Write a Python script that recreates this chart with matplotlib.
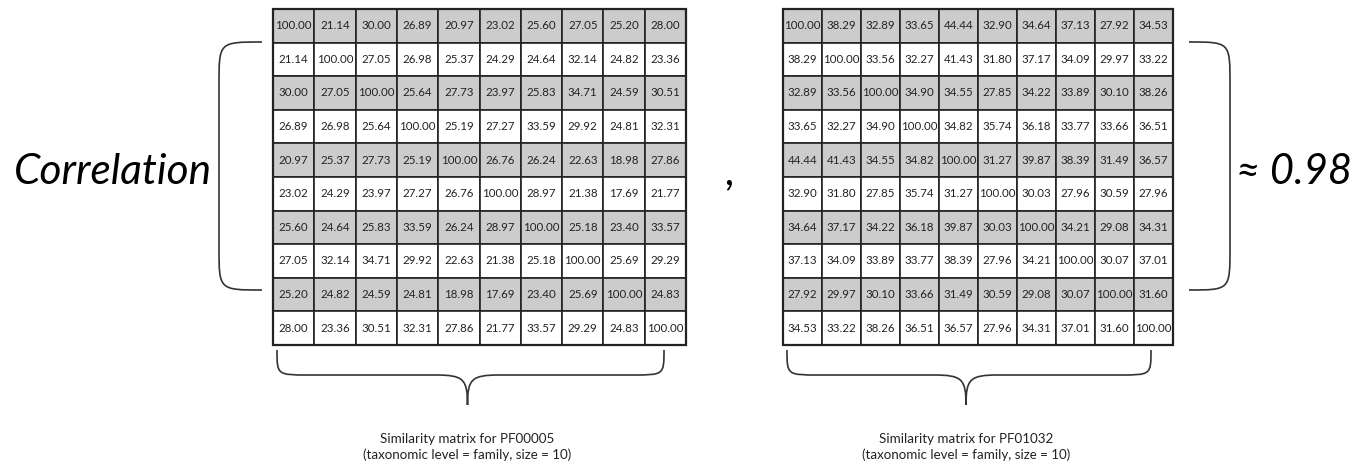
import matplotlib

matplotlib.use("Agg")
import matplotlib.pyplot as plt
from matplotlib.patches import Rectangle, PathPatch
from matplotlib.path import Path as MplPath

# Similarity matrices
pf00005 = [
    [100.00, 21.14, 30.00, 26.89, 20.97, 23.02, 25.60, 27.05, 25.20, 28.00],
    [21.14, 100.00, 27.05, 26.98, 25.37, 24.29, 24.64, 32.14, 24.82, 23.36],
    [30.00, 27.05, 100.00, 25.64, 27.73, 23.97, 25.83, 34.71, 24.59, 30.51],
    [26.89, 26.98, 25.64, 100.00, 25.19, 27.27, 33.59, 29.92, 24.81, 32.31],
    [20.97, 25.37, 27.73, 25.19, 100.00, 26.76, 26.24, 22.63, 18.98, 27.86],
    [23.02, 24.29, 23.97, 27.27, 26.76, 100.00, 28.97, 21.38, 17.69, 21.77],
    [25.60, 24.64, 25.83, 33.59, 26.24, 28.97, 100.00, 25.18, 23.40, 33.57],
    [27.05, 32.14, 34.71, 29.92, 22.63, 21.38, 25.18, 100.00, 25.69, 29.29],
    [25.20, 24.82, 24.59, 24.81, 18.98, 17.69, 23.40, 25.69, 100.00, 24.83],
    [28.00, 23.36, 30.51, 32.31, 27.86, 21.77, 33.57, 29.29, 24.83, 100.00],
]
pf01032 = [
    [100.00, 38.29, 32.89, 33.65, 44.44, 32.90, 34.64, 37.13, 27.92, 34.53],
    [38.29, 100.00, 33.56, 32.27, 41.43, 31.80, 37.17, 34.09, 29.97, 33.22],
    [32.89, 33.56, 100.00, 34.90, 34.55, 27.85, 34.22, 33.89, 30.10, 38.26],
    [33.65, 32.27, 34.90, 100.00, 34.82, 35.74, 36.18, 33.77, 33.66, 36.51],
    [44.44, 41.43, 34.55, 34.82, 100.00, 31.27, 39.87, 38.39, 31.49, 36.57],
    [32.90, 31.80, 27.85, 35.74, 31.27, 100.00, 30.03, 27.96, 30.59, 27.96],
    [34.64, 37.17, 34.22, 36.18, 39.87, 30.03, 100.00, 34.21, 29.08, 34.31],
    [37.13, 34.09, 33.89, 33.77, 38.39, 27.96, 34.21, 100.00, 30.07, 37.01],
    [27.92, 29.97, 30.10, 33.66, 31.49, 30.59, 29.08, 30.07, 100.00, 31.60],
    [34.53, 33.22, 38.26, 36.51, 36.57, 27.96, 34.31, 37.01, 31.60, 100.00],
]
captions = [
    "Similarity matrix for PF00005\n(taxonomic level = family, size = 10)",
    "Similarity matrix for PF01032\n(taxonomic level = family, size = 10)",
]
correlation = 0.98

LINE = "#333333"
GREY = "#cccccc"
FONT = "Lato"

fig = plt.figure(figsize=(13.67, 4.68), dpi=100)
ax = fig.add_axes([0, 0, 1, 1])
ax.set_xlim(0, 1367)
ax.set_ylim(468, 0)
ax.axis("off")


def draw_matrix(mat, x0, x1, y0, y1):
    n = len(mat)
    cw = (x1 - x0) / n
    ch = (y1 - y0) / n
    for i, row in enumerate(mat):
        for j, v in enumerate(row):
            ax.add_patch(Rectangle((x0 + j * cw, y0 + i * ch), cw, ch,
                                   facecolor=GREY if i % 2 == 0 else "white",
                                   edgecolor="#222222", linewidth=1.2))
            ax.text(x0 + (j + 0.5) * cw, y0 + (i + 0.5) * ch, f"{v:.2f}",
                    ha="center", va="center", fontsize=8.3, family=FONT,
                    color="#222222")
    ax.add_patch(Rectangle((x0, y0), x1 - x0, y1 - y0, facecolor="none",
                           edgecolor="#222222", linewidth=1.6))


def bottom_brace(xl, xr, xm, ytop, ymid, ytip):
    r = 32
    verts = [
        (xl, ytop), (xl, ymid), (xl, ymid), (xl + r, ymid),
        (xm - r, ymid),
        (xm - 4, ymid), (xm, ymid + 4), (xm, ytip),
        (xm, ymid + 4), (xm + 4, ymid), (xm + r, ymid),
        (xr - r, ymid),
        (xr, ymid), (xr, ymid), (xr, ytop),
    ]
    C4, L = MplPath.CURVE4, MplPath.LINETO
    codes = [MplPath.MOVETO, C4, C4, C4, L, C4, C4, C4, C4, C4, C4, L, C4, C4, C4]
    ax.add_patch(PathPatch(MplPath(verts, codes), facecolor="none",
                           edgecolor=LINE, linewidth=1.2))


def side_bracket(xend, xline, ytop, ybot):
    r = 42
    verts = [
        (xend, ytop), (xline, ytop), (xline, ytop), (xline, ytop + r),
        (xline, ybot - r),
        (xline, ybot), (xline, ybot), (xend, ybot),
    ]
    C4, L = MplPath.CURVE4, MplPath.LINETO
    codes = [MplPath.MOVETO, C4, C4, C4, L, C4, C4, C4]
    ax.add_patch(PathPatch(MplPath(verts, codes), facecolor="none",
                           edgecolor=LINE, linewidth=1.2))


tables = [(pf00005, 273, 686), (pf01032, 783, 1173)]
for (mat, x0, x1), cap in zip(tables, captions):
    draw_matrix(mat, x0, x1, 9, 345)
    xm = (x0 + x1) / 2 - 12
    bottom_brace(x0 + 4, x1 - 22, xm, 350, 375, 405)
    ax.text(xm, 447, cap, ha="center", va="center", fontsize=9.6,
            family=FONT, color="#222222", linespacing=1.25)

side_bracket(262, 219, 42, 290)
side_bracket(1189, 1230, 42, 290)

ax.text(212, 172, "Correlation", ha="right", va="center", fontsize=30.5,
        style="italic", family=FONT, color="black")
ax.text(730, 172, ",", ha="center", va="center", fontsize=30,
        style="italic", family=FONT, color="black")
ax.text(1236, 172, f"\u2248 {correlation:.2f}", ha="left", va="center",
        fontsize=30, style="italic", family=[FONT, "DejaVu Sans"], color="black")

fig.savefig("out.png", dpi=100)
plt.close(fig)
